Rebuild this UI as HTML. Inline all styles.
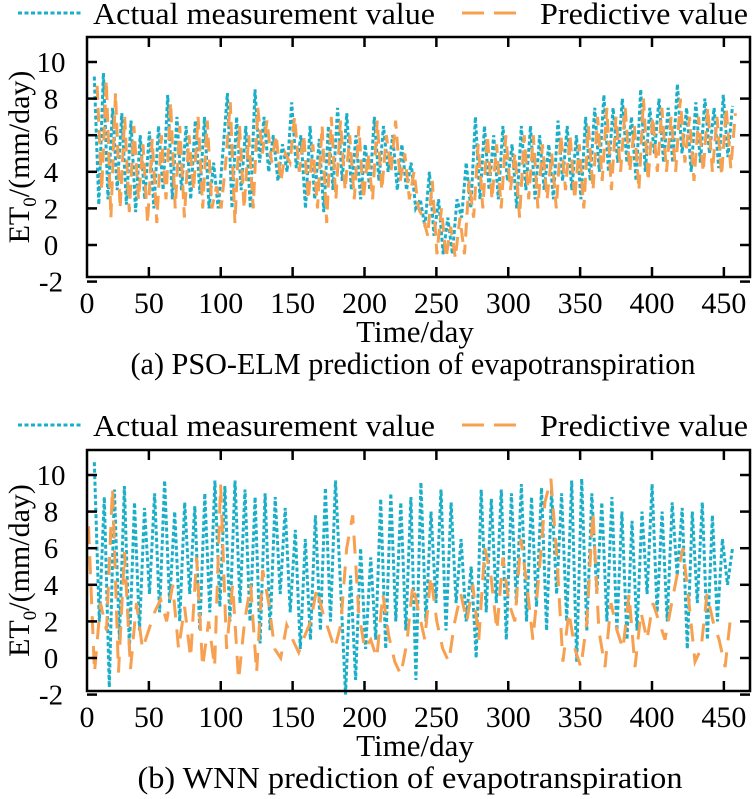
<!DOCTYPE html>
<html><head><meta charset="utf-8"><style>
body{margin:0;background:#fff}
svg{display:block;font-family:"Liberation Serif",serif}
</style></head><body>
<svg id="chart" width="754" height="799" viewBox="0 0 754 799"></svg>
<script>
const xTicks=[0,50,100,150,200,250,300,350,400,450];
const yTicks=[-2,0,2,4,6,8,10];
const actualA=[9.2,2.2,9.4,2.5,7.5,3.0,7.2,2.2,6.8,1.8,6.0,2.5,6.2,2.0,6.5,3.0,8.2,2.5,7.0,3.0,6.5,2.5,6.8,2.8,7.0,2.0,4.5,2.0,5.0,8.3,2.0,7.0,3.0,6.5,2.0,8.5,4.5,7.0,4.0,6.0,3.5,5.5,4.0,7.8,4.2,6.0,2.0,6.5,2.5,5.8,1.8,6.5,3.0,7.5,3.5,7.2,3.0,6.0,2.5,5.5,3.0,7.0,3.5,6.5,4.0,6.0,3.0,5.5,3.0,4.5,2.0,2.5,1.0,4.0,0.5,2.5,-0.5,1.5,-0.5,2.5,1.5,4.5,2.0,7.0,2.5,6.5,3.0,6.0,2.5,6.5,3.5,5.5,2.0,6.5,3.0,6.5,2.5,6.0,3.0,5.5,2.5,6.8,3.5,6.5,3.0,6.0,2.5,7.0,3.5,7.5,4.0,8.2,4.0,7.5,4.5,8.0,4.5,7.0,3.5,8.5,4.0,7.5,5.0,8.0,4.5,7.5,4.5,8.8,5.0,7.5,4.0,7.8,4.5,8.0,5.0,7.5,4.2,8.2,4.8,7.6];
const predA=[8.7,3.0,9.0,1.5,8.3,2.0,7.0,1.8,6.5,2.5,5.5,1.2,5.8,1.2,6.0,2.5,7.8,2.0,6.5,1.5,6.0,3.0,7.0,2.0,6.8,2.0,3.2,2.0,4.5,7.8,1.2,6.5,2.0,6.0,2.0,7.5,5.0,6.8,4.5,6.0,3.5,5.0,4.5,7.0,4.0,6.0,2.5,5.5,2.0,6.5,1.2,7.0,2.5,6.8,3.0,6.0,2.5,6.5,2.5,5.0,2.5,6.8,3.0,6.0,4.0,6.8,3.5,5.0,2.5,4.0,2.0,1.5,0.5,3.5,-0.5,2.0,-0.7,1.0,-0.7,1.5,-0.5,3.5,1.5,5.5,2.0,6.0,2.5,5.5,2.0,6.0,3.0,5.0,1.5,6.0,2.5,6.0,2.0,5.5,2.5,5.0,2.0,6.0,3.0,6.0,2.5,5.5,2.0,6.5,3.0,7.0,3.5,7.5,3.0,7.0,4.0,7.5,4.0,6.5,3.0,8.0,3.5,7.0,4.0,7.5,4.0,7.0,4.0,8.0,4.5,7.0,3.5,7.0,4.0,7.5,4.0,7.0,3.8,7.5,4.2,7.2];
const actualB=[10.7,2.0,8.8,-1.6,9.2,1.0,9.4,0.5,8.5,1.5,8.2,3.5,9.0,2.5,9.7,3.0,8.0,2.0,8.5,3.5,8.3,1.5,9.0,2.5,9.7,2.8,9.4,2.0,9.7,3.0,9.2,2.0,8.8,0.8,9.0,1.5,8.8,3.5,8.2,2.5,7.0,0.5,6.5,1.0,7.8,1.5,9.3,2.0,9.7,4.0,-2.0,4.5,-1.2,6.0,0.5,5.5,1.0,8.7,0.5,9.0,2.0,8.5,1.5,8.8,-1.2,9.6,2.0,8.0,3.0,9.2,1.5,8.5,3.0,6.5,2.0,5.0,0.0,9.2,2.5,8.7,3.0,9.2,1.0,9.0,3.0,9.5,2.0,8.8,2.8,9.3,1.5,9.2,3.5,9.0,2.0,9.7,-0.2,9.8,1.5,9.0,3.5,8.5,2.0,8.8,1.5,8.0,1.0,7.5,1.5,8.0,3.5,9.5,2.5,8.0,2.0,8.5,4.5,8.2,0.5,8.0,3.0,8.5,1.0,7.8,2.0,6.5,4.0,6.0];
const predB=[7.2,-0.8,3.0,1.5,9.3,-0.8,5.8,-0.6,3.0,0.5,1.5,2.5,3.2,2.0,4.0,0.5,2.8,0.0,5.5,-0.5,2.0,-0.5,9.5,0.5,4.0,-1.2,2.0,4.0,-0.8,4.8,3.0,0.5,0.0,1.8,1.0,0.3,1.2,2.0,3.8,2.5,1.5,0.5,1.8,6.0,7.8,2.5,0.5,1.0,0.0,3.5,1.2,-0.2,-0.9,0.8,4.0,2.5,1.0,4.5,2.0,0.5,-0.2,2.0,3.5,2.0,4.0,1.0,6.0,4.5,1.5,5.5,3.0,2.0,6.5,4.0,1.0,4.5,8.5,9.8,5.5,-0.2,2.5,0.5,-0.5,2.0,8.0,1.5,-0.5,3.0,1.5,0.5,3.5,-0.5,2.5,1.0,3.0,2.0,1.0,2.8,4.5,6.0,3.0,-0.2,0.5,3.5,2.0,1.0,-0.5,2.5];
const dayStartA=12, dayEndA=456, dayStartPredA=14, dayEndPredA=458;
const dayStartB=12, dayEndB=456, dayStartPredB=8, dayEndPredB=455;

const svg=document.getElementById('chart');
const NS='http://www.w3.org/2000/svg';
function mk(tag,attrs,parent){const e=document.createElementNS(NS,tag);for(const k in attrs)e.setAttribute(k,attrs[k]);(parent||svg).appendChild(e);return e;}

function panel(p){
  const L=87,R=750,T=p.top,B=p.bottom;
  const xs=d=>77+d*1.4375;
  const ys=v=>p.y0-v*18.3;
  const g=mk('g',{});
  
  
  function series(vals,start,end,color,dash,w,name){
    const step=(end-start)/(vals.length-1);
    const pts=vals.map((v,i)=>xs(start+i*step).toFixed(1)+','+ys(v).toFixed(1)).join(' ');
    const pl=mk('polyline',{points:pts,fill:'none',stroke:color,'stroke-width':w,'stroke-dasharray':dash},g);
    
    
  }
  series(p.actual,p.as,p.ae,'#1aaec8','4,2.5',3,'actual-series');
  series(p.pred,p.ps,p.pe,'#f7a050',p.pdash,3,'predicted-series');
  const fr=mk('rect',{x:L,y:T,width:R-L,height:B-T,fill:'none',stroke:'#000','stroke-width':2.5},g);
  
  
  xTicks.forEach(t=>{
    const x=xs(t);
    if(t>0){mk('line',{x1:x,x2:x,y1:B,y2:B-10,stroke:'#000','stroke-width':2.5},g);
    mk('line',{x1:x,x2:x,y1:T,y2:T+10,stroke:'#000','stroke-width':2.5},g);}
    const tx=mk('text',{x:t===0?L:x,y:B+36,'font-size':30,'text-anchor':'middle'},g);
    tx.textContent=t;
    
    
  });
  yTicks.forEach(t=>{
    const y=ys(t);
    mk('line',{x1:L,x2:L+10,y1:y,y2:y,stroke:'#000','stroke-width':2.5},g);
    mk('line',{x1:R,x2:R-10,y1:y,y2:y,stroke:'#000','stroke-width':2.5},g);
    const tx=mk('text',{x:L-36,y:y+10,'font-size':29,'text-anchor':'middle'},g);
    tx.textContent=t;
    
    
  });
  const yl=mk('text',{transform:`translate(29,${(T+B)/2}) rotate(-90)`,'font-size':30,'text-anchor':'middle'},g);
  yl.innerHTML='ET<tspan font-size="19" dy="7">0</tspan><tspan dy="-7">/(mm/day)</tspan>';
  
  
  const xl=mk('text',{x:415,y:B+65,'font-size':31,'text-anchor':'middle'},g);
  xl.textContent='Time/day';
  
  
  const cap=mk('text',{x:p.capX,y:B+97,'font-size':31,'text-anchor':'middle',textLength:p.capW,lengthAdjust:'spacingAndGlyphs'},g);
  cap.textContent=p.caption;
  
  
  const ly=p.legY;
  const la=mk('line',{x1:18,x2:82,y1:ly,y2:ly,stroke:'#1aaec8','stroke-width':3,'stroke-dasharray':'4,2.5'},g);
  
  
  const lt=mk('text',{x:93,y:ly+11,'font-size':31,textLength:342,lengthAdjust:'spacingAndGlyphs'},g);
  lt.textContent='Actual measurement value';
  
  
  const lp=mk('line',{x1:462,x2:525,y1:ly,y2:ly,stroke:'#f7a050','stroke-width':3,'stroke-dasharray':'22,10'},g);
  
  
  const lpt=mk('text',{x:540,y:ly+11,'font-size':31,textLength:208,lengthAdjust:'spacingAndGlyphs'},g);
  lpt.textContent='Predictive value';
  
  
}
panel({name:'panel-a-pso-elm',top:37,bottom:277,y0:245,actual:actualA,pred:predA,as:dayStartA,ae:dayEndA,ps:dayStartPredA,pe:dayEndPredA,pdash:'14,8',legY:13,caption:'(a) PSO-ELM prediction of evapotranspiration',capX:413,capW:565});
panel({name:'panel-b-wnn',top:450,bottom:691,y0:658,actual:actualB,pred:predB,as:dayStartB,ae:dayEndB,ps:dayStartPredB,pe:dayEndPredB,pdash:'18,12',legY:425,caption:'(b) WNN prediction of evapotranspiration',capX:410,capW:545});
</script>
</body></html>
